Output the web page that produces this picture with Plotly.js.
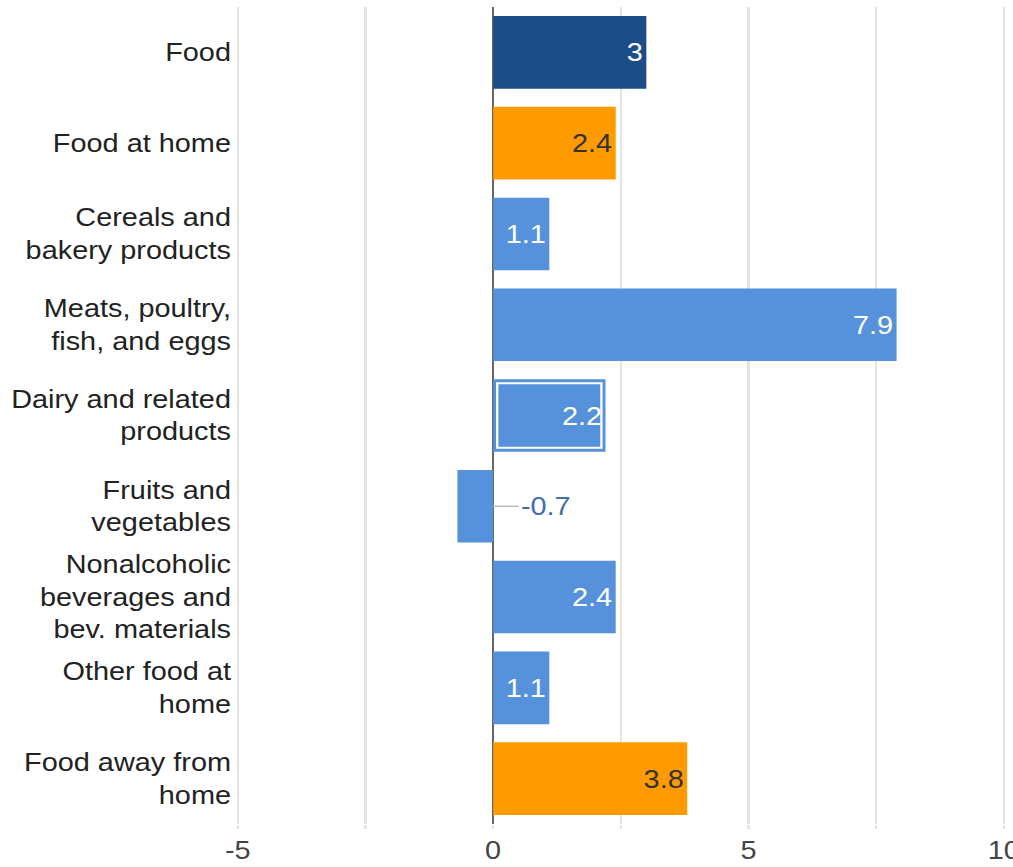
<!DOCTYPE html>
<html>
<head>
<meta charset="utf-8">
<script src="https://cdn.plot.ly/plotly-3.0.1.min.js"></script>
<style>
  html, body { margin: 0; padding: 0; overflow: hidden; background: #fff; }
  #wrap { width: 1013px; height: 867px; overflow: hidden; }
  #chart { transform: scaleX(1.155); transform-origin: 0 0; }
</style>
</head>
<body>
<div id="wrap"><div id="chart"></div></div>
<script>
// ---- data ----
const categories = [
  "Food",
  "Food at home",
  "Cereals and<br>bakery products",
  "Meats, poultry,<br>fish, and eggs",
  "Dairy and related<br>products",
  "Fruits and<br>vegetables",
  "Nonalcoholic<br>beverages and<br>bev. materials",
  "Other food at<br>home",
  "Food away from<br>home"
];
const values = [3, 2.4, 1.1, 7.9, 2.2, -0.7, 2.4, 1.1, 3.8];
const groups = ["total", "sub", "item", "item", "item", "item", "item", "item", "sub"];
const highlighted = ["Dairy and related<br>products"];
const xTickVals = [-5, 0, 5, 10];
const xTickText = ["-5", "0", "5", "10"];

// ---- style ----
const STRETCH = 1.155;
const W = Math.round(1013 / STRETCH);
const fillFor = {total: "#1b4d88", sub: "#ff9a00", item: "#5592db"};
const textFor = {total: "#ffffff", sub: "#333333", item: "#ffffff"};
const FONT = "Arial, 'Liberation Sans', sans-serif";

const colors = groups.map(g => fillFor[g]);
const textColors = groups.map(g => textFor[g]);
const textPos = values.map(v => v >= 0 ? "inside" : "none");

const main = {
  type: "bar",
  orientation: "h",
  y: categories,
  x: values,
  width: 0.8,
  marker: {color: colors, line: {width: 0}},
  text: values.map(String),
  textposition: textPos,
  insidetextanchor: "end",
  textfont: {color: textColors, size: 25, family: FONT},
  constraintext: "none",
  hoverinfo: "skip",
  cliponaxis: false
};

const inset = 0.08;
const hiIdx = highlighted.map(c => categories.indexOf(c));
const hi = {
  type: "bar",
  orientation: "h",
  y: hiIdx.map(i => categories[i]),
  x: hiIdx.map(i => values[i] - 2 * inset),
  base: hiIdx.map(() => inset),
  width: 0.71,
  marker: {color: "rgba(0,0,0,0)", line: {color: "#ffffff", width: 2}},
  hoverinfo: "skip"
};

const annotations = values.map((v, i) => v < 0 ? {
  x: 0, y: categories[i], xref: "x", yref: "y",
  text: String(v),
  showarrow: true, arrowhead: 0, arrowwidth: 1.5, arrowcolor: "#bbbbbb",
  ax: 22, ay: 0, xanchor: "left", standoff: 0,
  font: {size: 25, color: "#3f6eaa", family: FONT}
} : null).filter(a => a);

const layout = {
  width: W,
  height: 867,
  margin: {l: 203, r: 5, t: 7, b: 43},
  paper_bgcolor: "#ffffff",
  plot_bgcolor: "#ffffff",
  barmode: "overlay",
  showlegend: false,
  font: {family: FONT, size: 25, color: "#333"},
  xaxis: {
    range: [-5.065, 10.065],
    tickvals: xTickVals,
    ticktext: xTickText,
    ticklabeloverflow: "allow",
    showgrid: true,
    gridcolor: "#e3e3e3",
    gridwidth: 2,
    ticks: "outside",
    ticklen: 4,
    tickwidth: 2,
    tickcolor: "#e3e3e3",
    minor: {dtick: 2.5, tick0: 0, showgrid: true, gridcolor: "#e3e3e3", gridwidth: 2, ticks: "outside", ticklen: 4, tickwidth: 2, tickcolor: "#e3e3e3"},
    zeroline: true,
    zerolinecolor: "#666666",
    zerolinewidth: 2,
    showline: false,
    tickfont: {size: 25, color: "#444", family: FONT},
    fixedrange: true
  },
  yaxis: {
    autorange: "reversed",
    showgrid: false,
    showline: false,
    ticks: "",
    ticklabelstandoff: 2,
    tickfont: {size: 25, color: "#222", family: FONT},
    fixedrange: true
  },
  annotations: annotations
};

Plotly.newPlot("chart", [main, hi], layout, {displayModeBar: false, staticPlot: true});
</script>
</body>
</html>
